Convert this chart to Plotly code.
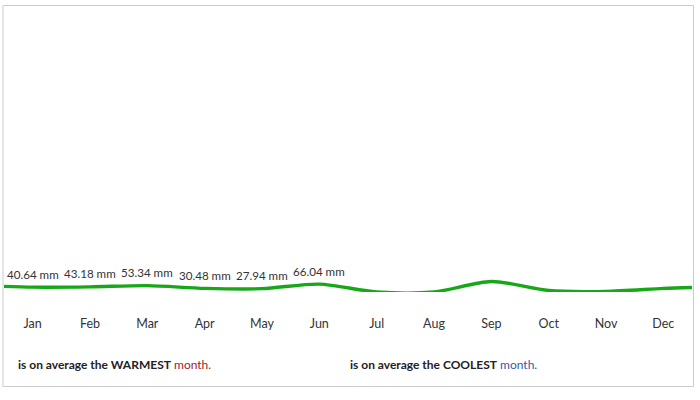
import plotly.graph_objects as go

months = ["Jan", "Feb", "Mar", "Apr", "May", "Jun", "Jul", "Aug", "Sep", "Oct", "Nov", "Dec"]
rain_mm = [40.64, 43.18, 53.34, 30.48, 27.94, 66.04, 0.0, 0.0, 88.0, 13.0, 5.0, 30.0]
edge_left_mm = 47.0
edge_right_mm = 38.0
label_text = ["40.64 mm", "43.18 mm", "53.34 mm", "30.48 mm", "27.94 mm", "66.04 mm"]

xs = list(range(len(months)))
line_x = [-0.5] + xs + [len(months) - 0.5]
line_y = [edge_left_mm] + rain_mm + [edge_right_mm]

W, H = 700, 400
ml, mr, mt, mb = 4, 8, 5, 108.4
FONT = "Lato, sans-serif"

fig = go.Figure()
fig.add_trace(go.Scatter(
    x=line_x, y=line_y, mode="lines",
    line=dict(color="#17a817", width=3.4, shape="spline", smoothing=0.8),
    hoverinfo="skip", showlegend=False, cliponaxis=False,
))

annotations = []
for i, t in enumerate(label_text):
    annotations.append(dict(
        x=xs[i], y=rain_mm[i], xref="x", yref="y", text=t, showarrow=False,
        yanchor="middle", xanchor="center", yshift=13,
        font=dict(family=FONT, size=11.6, color="#333333"),
    ))

annotations += [
    dict(xref="paper", yref="paper",
         x=(16 - ml) / (W - ml - mr), y=(H - mb - 364) / (H - mt - mb),
         xanchor="left", yanchor="middle", showarrow=False,
         text="<b>is on average the WARMEST</b> <span style='color:#9b1c2a'>month.</span>",
         font=dict(family=FONT, size=12, color="#222222")),
    dict(xref="paper", yref="paper",
         x=(348 - ml) / (W - ml - mr), y=(H - mb - 364) / (H - mt - mb),
         xanchor="left", yanchor="middle", showarrow=False,
         text="<b>is on average the COOLEST</b> <span style='color:#3557a8'>month.</span>",
         font=dict(family=FONT, size=12, color="#222222")),
]

fig.update_layout(
    width=W, height=H,
    margin=dict(l=ml, r=mr, t=mt, b=mb, pad=0),
    paper_bgcolor="white", plot_bgcolor="white",
    xaxis=dict(
        range=[-0.5, len(months) - 0.5], tickmode="array", tickvals=xs, ticktext=months,
        showgrid=False, zeroline=False, showline=False, ticks="",
        ticklabelstandoff=22,
        tickfont=dict(family=FONT, size=12.5, color="#333333"),
        fixedrange=True,
    ),
    yaxis=dict(range=[0, 2400], visible=False, fixedrange=True),
    font=dict(family=FONT),
    shapes=[dict(
        type="rect", xref="paper", yref="paper",
        x0=(3 - ml) / (W - ml - mr), x1=(693.5 - ml) / (W - ml - mr),
        y0=(H - mb - 386) / (H - mt - mb), y1=(H - mb - 5.5) / (H - mt - mb),
        line=dict(color="#cccccc", width=1), fillcolor="rgba(0,0,0,0)", layer="below",
    )],
    annotations=annotations,
)

fig.write_html("out.html")
